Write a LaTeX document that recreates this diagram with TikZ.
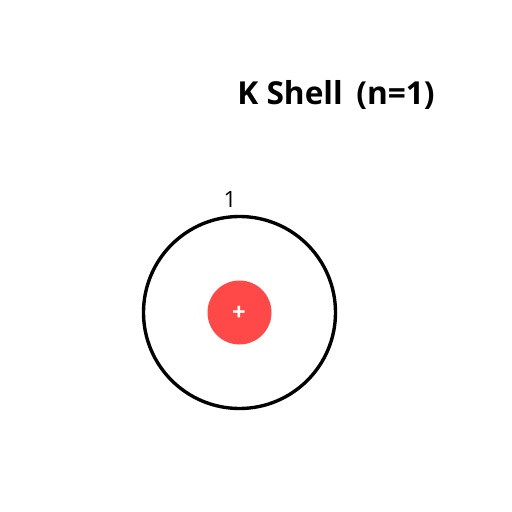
\documentclass[tikz,border=0pt]{standalone}
\usepackage{fontspec}
\setmainfont{Open Sans}
\usepackage{tikz}
\usetikzlibrary{positioning}
\definecolor{nucred}{HTML}{FF4848}

\begin{document}
\begin{tikzpicture}[x=0.025cm, y=-0.025cm, lbl/.style={inner sep = 1 pt}]
\useasboundingbox (0,0) rectangle (512,512);
\path (336,95) node[lbl, font=\fontsize{22.5}{26}\selectfont\bfseries] (title) {K Shell\, (n=1)};
%shell and nucleus
\draw[line width=2.4pt] (239.5,312.5) circle (96) coordinate (shell);
\filldraw[fill=nucred, draw=none] (239.5,312.5) circle (32);
\path (239,313) node[lbl, text=white, font=\fontsize{17}{18}\selectfont\bfseries] (nucleus) {+};
\path (230,199) node[lbl, font=\fontsize{16}{18}\selectfont] (count) {1};
\end{tikzpicture}
\end{document}
